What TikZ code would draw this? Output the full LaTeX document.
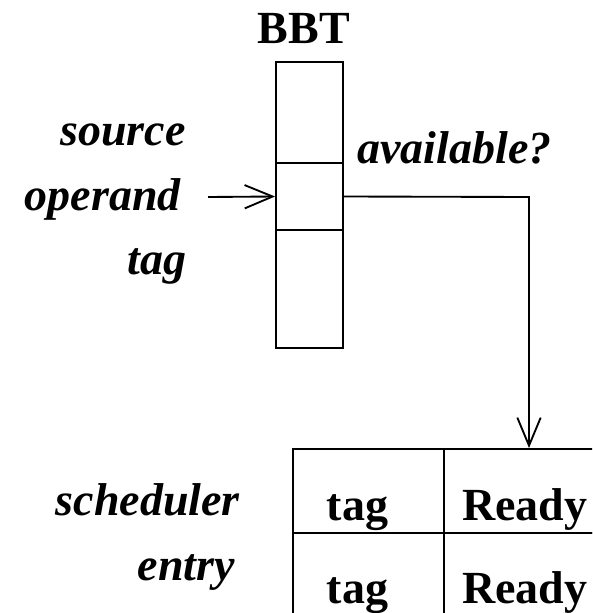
\documentclass[tikz,border=0pt]{standalone}
\usepackage{fontspec}
\setmainfont{Liberation Serif}
\usetikzlibrary{arrows.meta}

\tikzset{
  wire/.style={line width=1.4pt},
  vee/.style={-{Straight Barb[length=21pt,width=17.5pt,line width=1.4pt]}},
  bbtcell/.style={draw, line width=1.4pt, minimum width=50.25pt, inner sep=0pt},
  tcell/.style={draw, line width=1.4pt, minimum width=113.25pt, minimum height=63pt, inner sep=0pt},
  lbl/.style={inner sep=0pt, font=\fontsize{34.5}{40}\selectfont\bfseries\itshape},
  celltxt/.style={inner sep=0pt, font=\fontsize{34.5}{40}\selectfont\bfseries},
}

\begin{document}
\begin{tikzpicture}[x=0.75pt, y=-0.75pt]
  \useasboundingbox (0,0) rectangle (592,613);
  \clip (0,0) rectangle (592,613);

  % BBT column: three stacked cells
  \node[celltxt, anchor=base] (bbt) at (304,44) {BBT};
  \node[bbtcell, minimum height=75.75pt] (bbt1) at (309.5,112.5) {};
  \node[bbtcell, minimum height=50.25pt] (bbt2) at (309.5,196.5) {};
  \node[bbtcell, minimum height=88.5pt]  (bbt3) at (309.5,289) {};

  % labels left of the column
  \node[lbl, anchor=base east] (src)  at (186,146) {source};
  \node[lbl, anchor=base east] (opnd) at (181,210) {operand};
  \node[lbl, anchor=base east] (tgl)  at (187,274) {tag};
  \node[lbl, anchor=base west] (avail) at (357,163) {available?};

  % scheduler table (two rows, two columns)
  \node[tcell] (t11) at (368.5,491) {};
  \node[tcell] (t12) at (519.5,491) {};
  \node[tcell] (t21) at (368.5,575) {};
  \node[tcell] (t22) at (519.5,575) {};
  \node[celltxt, anchor=base] (tag1)   at (357.5,520) {tag};
  \node[celltxt, anchor=base west] (ready1) at (462,520) {Ready};
  \node[celltxt, anchor=base] (tag2)   at (357.5,603) {tag};
  \node[celltxt, anchor=base west] (ready2) at (462,603) {Ready};

  \node[lbl, anchor=base east] (sched) at (240,515) {scheduler};
  \node[lbl, anchor=base east] (entry) at (235,580) {entry};

  % connectors
  \coordinate (in) at (208,197);
  \coordinate (turn) at (529,197);
  \draw[wire, vee] (in) -- (bbt2.west);
  \draw[wire, vee] (bbt2.east) -- (turn) -- (turn |- t12.north);
\end{tikzpicture}
\end{document}
